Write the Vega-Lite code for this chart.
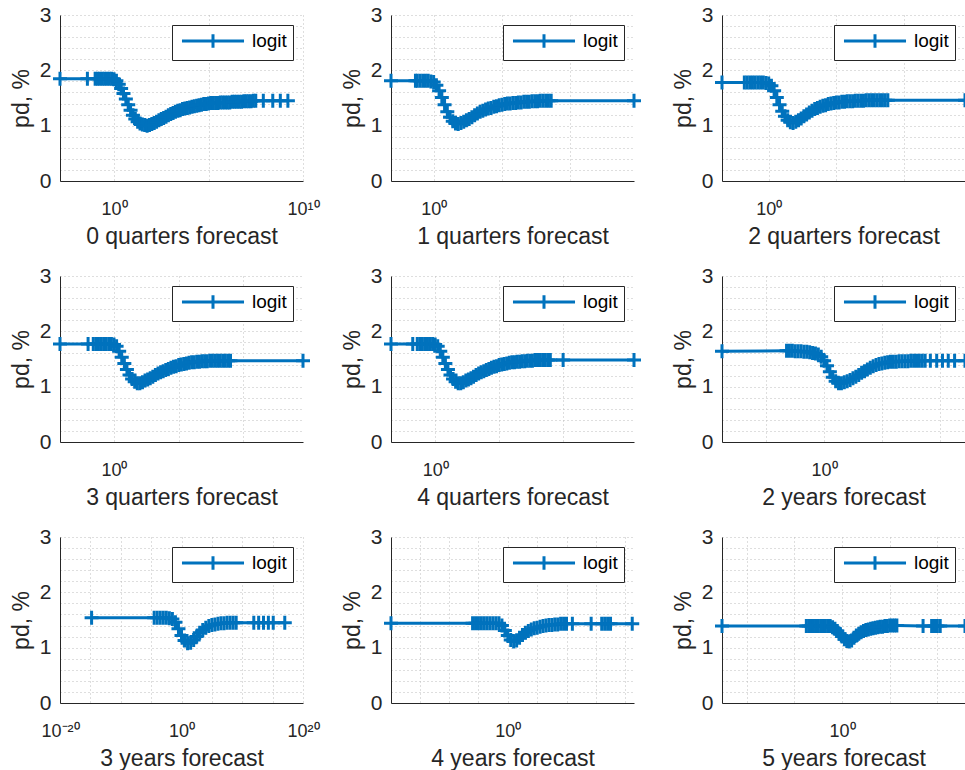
{
  "$schema": "https://vega.github.io/schema/vega-lite/v6.json",
  "padding": {"left": 10, "top": 4, "right": 0, "bottom": 0},
  "background": "white",
  "config": {
    "font": "Liberation Sans",
    "view": {"stroke": null},
    "axis": {"domainColor": "#262626", "domainWidth": 1, "labelColor": "#262626", "titleColor": "#262626", "titleFontWeight": "normal", "titleFontSize": 23, "labelFontSize": 21, "gridColor": "#bdbdbd", "gridDash": [1, 3], "gridWidth": 1, "ticks": false, "labelOverlap": false},
    "axisX": {"labelFontSize": 18, "labelPadding": 19, "titlePadding": 7, "labelFlush": false},
    "axisY": {"labelPadding": 9, "titlePadding": 6},
    "legend": {"orient": "top-right", "offset": 10, "strokeColor": "#262626", "fillColor": "white", "padding": 6, "cornerRadius": 0, "labelFontSize": 19, "labelColor": "#000000", "symbolType": "M-3.65,0H3.65M0,-0.8V0.8", "symbolSize": 289, "symbolStrokeWidth": 3, "symbolOffset": 25, "labelOffset": 29, "symbolFillColor": "transparent"}
  },
  "datasets": {
    "q0": [{"x":0.00138,"pd":1.85},{"x":0.0389,"pd":1.85},
      {"x":0.1,"pd":1.85},{"x":0.1334,"pd":1.85},{"x":0.1778,"pd":1.85},{"x":0.2371,"pd":1.85},{"x":0.3162,"pd":1.85},{"x":0.4217,"pd":1.85},{"x":0.5623,"pd":1.85},{"x":0.7499,"pd":1.85},
      {"x":1,"pd":1.84},{"x":1.334,"pd":1.81},{"x":1.778,"pd":1.75},{"x":2.371,"pd":1.67},{"x":3.162,"pd":1.58},{"x":4.217,"pd":1.48},{"x":5.623,"pd":1.38},{"x":7.499,"pd":1.28},
      {"x":10,"pd":1.19},{"x":13.34,"pd":1.12},{"x":17.78,"pd":1.07},{"x":23.71,"pd":1.04},{"x":31.62,"pd":1.02},{"x":42.17,"pd":1.01},{"x":56.23,"pd":1.0},{"x":74.99,"pd":1.01},
      {"x":100,"pd":1.03},{"x":133.4,"pd":1.05},{"x":177.8,"pd":1.07},{"x":237.1,"pd":1.1},{"x":316.2,"pd":1.12},{"x":421.7,"pd":1.14},{"x":562.3,"pd":1.16},{"x":749.9,"pd":1.19},
      {"x":1000,"pd":1.21},{"x":1334,"pd":1.23},{"x":1778,"pd":1.25},{"x":2371,"pd":1.27},{"x":3162,"pd":1.28},{"x":4217,"pd":1.3},{"x":5623,"pd":1.31},{"x":7499,"pd":1.32},
      {"x":1e4,"pd":1.33},{"x":1.334e4,"pd":1.34},{"x":1.778e4,"pd":1.35},{"x":2.371e4,"pd":1.36},{"x":3.162e4,"pd":1.37},{"x":4.217e4,"pd":1.38},{"x":5.623e4,"pd":1.39},{"x":7.499e4,"pd":1.39},
      {"x":1e5,"pd":1.4},{"x":1.334e5,"pd":1.41},{"x":1.778e5,"pd":1.41},{"x":2.371e5,"pd":1.41},{"x":3.162e5,"pd":1.41},{"x":4.217e5,"pd":1.42},{"x":5.623e5,"pd":1.42},{"x":7.499e5,"pd":1.42},
      {"x":1e6,"pd":1.42},{"x":1.334e6,"pd":1.42},{"x":1.778e6,"pd":1.43},{"x":2.371e6,"pd":1.43},{"x":3.162e6,"pd":1.43},{"x":4.217e6,"pd":1.43},{"x":5.623e6,"pd":1.43},{"x":7.499e6,"pd":1.44},
      {"x":1e7,"pd":1.44},{"x":1.334e7,"pd":1.44},{"x":1.778e7,"pd":1.44},{"x":2.371e7,"pd":1.45},{"x":3.162e7,"pd":1.45},
      {"x":7.943e7,"pd":1.45},{"x":2.512e8,"pd":1.45},{"x":6.31e8,"pd":1.45},{"x":1.585e9,"pd":1.45}],
    "q1": [{"x":7.586e-4,"pd":1.81},{"x":0.04677,"pd":1.81},
      {"x":0.0631,"pd":1.81},{"x":0.1,"pd":1.81},{"x":0.1585,"pd":1.81},{"x":0.2512,"pd":1.81},{"x":0.3981,"pd":1.81},{"x":0.631,"pd":1.8},
      {"x":1,"pd":1.79},{"x":1.585,"pd":1.73},{"x":2.512,"pd":1.63},{"x":3.981,"pd":1.51},{"x":6.31,"pd":1.38},
      {"x":10,"pd":1.25},{"x":15.85,"pd":1.15},{"x":25.12,"pd":1.08},{"x":39.81,"pd":1.04},{"x":63.1,"pd":1.03},
      {"x":100,"pd":1.05},{"x":158.5,"pd":1.07},{"x":251.2,"pd":1.1},{"x":398.1,"pd":1.12},{"x":631,"pd":1.15},
      {"x":1000,"pd":1.19},{"x":1585,"pd":1.22},{"x":2512,"pd":1.25},{"x":3981,"pd":1.27},{"x":6310,"pd":1.29},
      {"x":1e4,"pd":1.31},{"x":1.585e4,"pd":1.32},{"x":2.512e4,"pd":1.34},{"x":3.981e4,"pd":1.35},{"x":6.31e4,"pd":1.37},
      {"x":1e5,"pd":1.38},{"x":1.585e5,"pd":1.39},{"x":2.512e5,"pd":1.4},{"x":3.981e5,"pd":1.4},{"x":6.31e5,"pd":1.41},
      {"x":1e6,"pd":1.41},{"x":1.585e6,"pd":1.42},{"x":2.512e6,"pd":1.42},{"x":3.981e6,"pd":1.43},{"x":6.31e6,"pd":1.43},
      {"x":1e7,"pd":1.43},{"x":1.585e7,"pd":1.44},{"x":2.512e7,"pd":1.44},{"x":3.981e7,"pd":1.44},{"x":6.31e7,"pd":1.45},
      {"x":1e8,"pd":1.45},{"x":1.585e8,"pd":1.45},{"x":2.512e8,"pd":1.45},{"x":3.981e8,"pd":1.45},
      {"x":4.571e14,"pd":1.45}],
    "q2": [{"x":3.548e-4,"pd":1.78},
      {"x":0.01585,"pd":1.78},{"x":0.02512,"pd":1.78},{"x":0.03981,"pd":1.78},{"x":0.0631,"pd":1.78},
      {"x":0.1,"pd":1.78},{"x":0.1585,"pd":1.78},{"x":0.2512,"pd":1.78},{"x":0.3981,"pd":1.78},{"x":0.631,"pd":1.77},
      {"x":1,"pd":1.76},{"x":1.585,"pd":1.72},{"x":2.512,"pd":1.63},{"x":3.981,"pd":1.51},{"x":6.31,"pd":1.38},
      {"x":10,"pd":1.26},{"x":15.85,"pd":1.17},{"x":25.12,"pd":1.1},{"x":39.81,"pd":1.06},{"x":63.1,"pd":1.05},
      {"x":100,"pd":1.07},{"x":158.5,"pd":1.1},{"x":251.2,"pd":1.13},{"x":398.1,"pd":1.17},{"x":631,"pd":1.2},
      {"x":1000,"pd":1.24},{"x":1585,"pd":1.27},{"x":2512,"pd":1.3},{"x":3981,"pd":1.32},{"x":6310,"pd":1.34},
      {"x":1e4,"pd":1.36},{"x":1.585e4,"pd":1.37},{"x":2.512e4,"pd":1.39},{"x":3.981e4,"pd":1.4},{"x":6.31e4,"pd":1.41},
      {"x":1e5,"pd":1.42},{"x":1.585e5,"pd":1.42},{"x":2.512e5,"pd":1.43},{"x":3.981e5,"pd":1.43},{"x":6.31e5,"pd":1.44},
      {"x":1e6,"pd":1.44},{"x":1.585e6,"pd":1.44},{"x":2.512e6,"pd":1.45},{"x":3.981e6,"pd":1.45},{"x":6.31e6,"pd":1.45},
      {"x":1e7,"pd":1.45},{"x":1.585e7,"pd":1.46},{"x":2.512e7,"pd":1.46},{"x":3.981e7,"pd":1.46},{"x":6.31e7,"pd":1.46},
      {"x":1e8,"pd":1.46},{"x":1.585e8,"pd":1.46},{"x":2.512e8,"pd":1.46},{"x":3.981e8,"pd":1.46},{"x":6.31e8,"pd":1.46},
      {"x":3.162e14,"pd":1.46}],
    "q3": [{"x":6.761e-5,"pd":1.77},{"x":0.01,"pd":1.77},
      {"x":0.02512,"pd":1.77},{"x":0.03981,"pd":1.77},{"x":0.0631,"pd":1.77},
      {"x":0.1,"pd":1.77},{"x":0.1585,"pd":1.77},{"x":0.2512,"pd":1.77},{"x":0.3981,"pd":1.77},{"x":0.631,"pd":1.77},
      {"x":1,"pd":1.76},{"x":1.585,"pd":1.73},{"x":2.512,"pd":1.64},{"x":3.981,"pd":1.53},{"x":6.31,"pd":1.42},
      {"x":10,"pd":1.31},{"x":15.85,"pd":1.21},{"x":25.12,"pd":1.14},{"x":39.81,"pd":1.09},{"x":63.1,"pd":1.06},
      {"x":100,"pd":1.06},{"x":158.5,"pd":1.08},{"x":251.2,"pd":1.11},{"x":398.1,"pd":1.13},{"x":631,"pd":1.15},
      {"x":1000,"pd":1.18},{"x":1585,"pd":1.21},{"x":2512,"pd":1.24},{"x":3981,"pd":1.26},{"x":6310,"pd":1.28},
      {"x":1e4,"pd":1.3},{"x":1.585e4,"pd":1.32},{"x":2.512e4,"pd":1.34},{"x":3.981e4,"pd":1.36},{"x":6.31e4,"pd":1.37},
      {"x":1e5,"pd":1.39},{"x":1.585e5,"pd":1.4},{"x":2.512e5,"pd":1.41},{"x":3.981e5,"pd":1.42},{"x":6.31e5,"pd":1.43},
      {"x":1e6,"pd":1.44},{"x":1.585e6,"pd":1.44},{"x":2.512e6,"pd":1.45},{"x":3.981e6,"pd":1.45},{"x":6.31e6,"pd":1.46},
      {"x":1e7,"pd":1.46},{"x":1.585e7,"pd":1.46},{"x":2.512e7,"pd":1.47},{"x":3.981e7,"pd":1.47},{"x":6.31e7,"pd":1.47},
      {"x":1e8,"pd":1.47},{"x":1.585e8,"pd":1.47},{"x":2.512e8,"pd":1.47},{"x":3.981e8,"pd":1.47},{"x":6.31e8,"pd":1.47},
      {"x":1e9,"pd":1.47},
      {"x":3.981e14,"pd":1.47}],
    "q4": [{"x":3.548e-4,"pd":1.77},{"x":0.01778,"pd":1.77},
      {"x":0.03981,"pd":1.77},{"x":0.0631,"pd":1.77},
      {"x":0.1,"pd":1.77},{"x":0.1585,"pd":1.77},{"x":0.2512,"pd":1.77},{"x":0.3981,"pd":1.77},{"x":0.631,"pd":1.77},
      {"x":1,"pd":1.76},{"x":1.585,"pd":1.73},{"x":2.512,"pd":1.64},{"x":3.981,"pd":1.53},{"x":6.31,"pd":1.42},
      {"x":10,"pd":1.31},{"x":15.85,"pd":1.21},{"x":25.12,"pd":1.14},{"x":39.81,"pd":1.09},{"x":63.1,"pd":1.06},
      {"x":100,"pd":1.06},{"x":158.5,"pd":1.08},{"x":251.2,"pd":1.11},{"x":398.1,"pd":1.13},{"x":631,"pd":1.15},
      {"x":1000,"pd":1.18},{"x":1585,"pd":1.21},{"x":2512,"pd":1.24},{"x":3981,"pd":1.26},{"x":6310,"pd":1.28},
      {"x":1e4,"pd":1.3},{"x":1.585e4,"pd":1.32},{"x":2.512e4,"pd":1.34},{"x":3.981e4,"pd":1.36},{"x":6.31e4,"pd":1.37},
      {"x":1e5,"pd":1.39},{"x":1.585e5,"pd":1.4},{"x":2.512e5,"pd":1.41},{"x":3.981e5,"pd":1.42},{"x":6.31e5,"pd":1.43},
      {"x":1e6,"pd":1.44},{"x":1.585e6,"pd":1.44},{"x":2.512e6,"pd":1.45},{"x":3.981e6,"pd":1.45},{"x":6.31e6,"pd":1.46},
      {"x":1e7,"pd":1.46},{"x":1.585e7,"pd":1.47},{"x":2.512e7,"pd":1.47},{"x":3.981e7,"pd":1.47},{"x":6.31e7,"pd":1.48},
      {"x":1e8,"pd":1.48},{"x":1.585e8,"pd":1.48},{"x":2.512e8,"pd":1.48},{"x":3.981e8,"pd":1.48},{"x":6.31e8,"pd":1.48},
      {"x":1e9,"pd":1.48},
      {"x":1e10,"pd":1.48},{"x":3.467e15,"pd":1.48}],
    "y2": [{"x":1.445e-9,"pd":1.64},
      {"x":5.623e-4,"pd":1.65},{"x":0.001,"pd":1.65},{"x":0.001778,"pd":1.65},{"x":0.003162,"pd":1.64},{"x":0.005623,"pd":1.64},
      {"x":0.01,"pd":1.64},{"x":0.01778,"pd":1.63},{"x":0.03162,"pd":1.63},{"x":0.05623,"pd":1.62},
      {"x":0.1,"pd":1.61},{"x":0.1778,"pd":1.6},{"x":0.3162,"pd":1.58},{"x":0.5623,"pd":1.54},
      {"x":1,"pd":1.47},{"x":1.778,"pd":1.38},{"x":3.162,"pd":1.27},{"x":5.623,"pd":1.17},
      {"x":10,"pd":1.1},{"x":17.78,"pd":1.06},{"x":31.62,"pd":1.06},{"x":56.23,"pd":1.08},
      {"x":100,"pd":1.1},{"x":177.8,"pd":1.12},{"x":316.2,"pd":1.15},{"x":562.3,"pd":1.18},
      {"x":1000,"pd":1.21},{"x":1778,"pd":1.25},{"x":3162,"pd":1.28},{"x":5623,"pd":1.31},
      {"x":1e4,"pd":1.34},{"x":1.778e4,"pd":1.37},{"x":3.162e4,"pd":1.39},{"x":5.623e4,"pd":1.41},
      {"x":1e5,"pd":1.42},{"x":1.778e5,"pd":1.43},{"x":3.162e5,"pd":1.44},{"x":5.623e5,"pd":1.45},
      {"x":1e6,"pd":1.45},{"x":1.778e6,"pd":1.45},{"x":3.162e6,"pd":1.46},{"x":5.623e6,"pd":1.46},
      {"x":1e7,"pd":1.46},{"x":1.778e7,"pd":1.46},{"x":3.162e7,"pd":1.47},{"x":5.623e7,"pd":1.47},
      {"x":1e8,"pd":1.47},{"x":1.778e8,"pd":1.47},{"x":3.162e8,"pd":1.47},{"x":5.623e8,"pd":1.47},
      {"x":1.585e9,"pd":1.47},{"x":5.623e9,"pd":1.47},{"x":1.778e10,"pd":1.47},{"x":5.623e10,"pd":1.47},{"x":1.995e11,"pd":1.47},{"x":1.585e12,"pd":1.47}],
    "y3": [{"x":1.585e-15,"pd":1.54},
      {"x":3.162e-5,"pd":1.54},{"x":1e-4,"pd":1.54},{"x":3.162e-4,"pd":1.54},{"x":0.001,"pd":1.54},{"x":0.003162,"pd":1.54},
      {"x":0.01,"pd":1.53},{"x":0.03162,"pd":1.52},{"x":0.1,"pd":1.46},{"x":0.3162,"pd":1.34},
      {"x":1,"pd":1.22},{"x":3.162,"pd":1.13},{"x":10,"pd":1.08},{"x":31.62,"pd":1.09},
      {"x":100,"pd":1.14},{"x":316.2,"pd":1.2},{"x":1000,"pd":1.27},{"x":3162,"pd":1.32},
      {"x":1e4,"pd":1.36},{"x":3.162e4,"pd":1.39},{"x":1e5,"pd":1.41},{"x":3.162e5,"pd":1.42},
      {"x":1e6,"pd":1.43},{"x":3.162e6,"pd":1.44},{"x":1e7,"pd":1.44},{"x":3.162e7,"pd":1.45},
      {"x":1e8,"pd":1.45},{"x":3.162e8,"pd":1.45},{"x":1e9,"pd":1.45},
      {"x":7.943e11,"pd":1.45},{"x":5.012e12,"pd":1.45},{"x":3.162e13,"pd":1.45},{"x":1.995e14,"pd":1.45},{"x":1.259e15,"pd":1.45},{"x":1e17,"pd":1.45}],
    "y4": [{"x":1.259e-20,"pd":1.44},
      {"x":1e-6,"pd":1.44},{"x":3.162e-6,"pd":1.44},{"x":1e-5,"pd":1.44},{"x":3.162e-5,"pd":1.44},{"x":1e-4,"pd":1.44},{"x":3.162e-4,"pd":1.44},{"x":0.001,"pd":1.44},{"x":0.003162,"pd":1.44},{"x":0.01,"pd":1.44},{"x":0.03162,"pd":1.44},
      {"x":0.1,"pd":1.4},{"x":0.3162,"pd":1.31},{"x":1,"pd":1.22},{"x":3.162,"pd":1.14},
      {"x":10,"pd":1.11},{"x":31.62,"pd":1.13},{"x":100,"pd":1.18},{"x":316.2,"pd":1.23},
      {"x":1000,"pd":1.27},{"x":3162,"pd":1.3},{"x":1e4,"pd":1.33},{"x":3.162e4,"pd":1.35},
      {"x":1e5,"pd":1.36},{"x":3.162e5,"pd":1.38},{"x":1e6,"pd":1.39},{"x":3.162e6,"pd":1.4},
      {"x":1e7,"pd":1.41},{"x":3.162e7,"pd":1.41},{"x":1e8,"pd":1.42},{"x":3.162e8,"pd":1.42},
      {"x":1e9,"pd":1.43},{"x":3.162e9,"pd":1.43},{"x":1e10,"pd":1.43},
      {"x":1e11,"pd":1.43},{"x":1.585e14,"pd":1.43},{"x":1e16,"pd":1.43},{"x":3.162e16,"pd":1.43},{"x":1e17,"pd":1.43},{"x":3.162e17,"pd":1.43},{"x":1.585e21,"pd":1.43}],
    "y5": [{"x":2.512e-13,"pd":1.39},
      {"x":1.778e-4,"pd":1.39},{"x":3.162e-4,"pd":1.39},{"x":5.623e-4,"pd":1.39},{"x":0.001,"pd":1.39},{"x":0.001778,"pd":1.39},{"x":0.003162,"pd":1.39},{"x":0.005623,"pd":1.39},{"x":0.01,"pd":1.39},{"x":0.01778,"pd":1.39},{"x":0.03162,"pd":1.39},{"x":0.05623,"pd":1.39},
      {"x":0.1,"pd":1.37},{"x":0.1778,"pd":1.34},{"x":0.3162,"pd":1.3},{"x":0.5623,"pd":1.25},
      {"x":1,"pd":1.2},{"x":1.778,"pd":1.15},{"x":3.162,"pd":1.12},{"x":5.623,"pd":1.11},
      {"x":10,"pd":1.13},{"x":17.78,"pd":1.18},{"x":31.62,"pd":1.22},{"x":56.23,"pd":1.25},
      {"x":100,"pd":1.28},{"x":177.8,"pd":1.3},{"x":316.2,"pd":1.32},{"x":562.3,"pd":1.33},
      {"x":1000,"pd":1.34},{"x":1778,"pd":1.35},{"x":3162,"pd":1.36},{"x":5623,"pd":1.37},
      {"x":1e4,"pd":1.38},{"x":1.778e4,"pd":1.38},{"x":3.162e4,"pd":1.39},{"x":5.623e4,"pd":1.39},
      {"x":1e5,"pd":1.4},{"x":1.778e5,"pd":1.4},{"x":3.162e5,"pd":1.4},{"x":5.623e5,"pd":1.4},
      {"x":3.162e8,"pd":1.39},{"x":2.512e9,"pd":1.39},{"x":5.012e9,"pd":1.39},{"x":1e10,"pd":1.39},{"x":1.995e10,"pd":1.39},{"x":7.943e12,"pd":1.39}]
  },
  "columns": 3,
  "spacing": {"row": 95, "column": 88},
  "bounds": "flush",
  "resolve": {"legend": {"color": "independent"}},
  "concat": [
    {"width": 243, "height": 166, "data": {"name": "q0"},
     "encoding": {
       "x": {"field": "x", "type": "quantitative", "scale": {"type": "log", "domain": [0.00138, 1e10]}, "axis": {"title": "0 quarters forecast", "values": [1, 1e5, 1e10], "labelExpr": "datum.value == 1 ? '10⁰' : datum.value == 1e10 ? '10¹⁰' : ''"}},
       "y": {"field": "pd", "type": "quantitative", "scale": {"domain": [0, 3]}, "axis": {"title": "pd, %", "values": [0,0.2,0.4,0.6,0.8,1,1.2,1.4,1.6,1.8,2,2.2,2.4,2.6,2.8,3], "labelExpr": "datum.value % 1 == 0 ? format(datum.value, 'd') : ''"}}},
     "layer": [
       {"mark": {"type": "line", "strokeWidth": 3}, "encoding": {"color": {"datum": "logit", "scale": {"range": ["#0072BD"]}, "legend": {"title": null}}}},
       {"mark": {"type": "point", "shape": "M-1,0H1M0,-1V1", "filled": false, "size": 196, "strokeWidth": 3, "color": "#0072BD", "opacity": 1}}
     ]},
    {"width": 243, "height": 166, "data": {"name": "q1"},
     "encoding": {
       "x": {"field": "x", "type": "quantitative", "scale": {"type": "log", "domain": [7.586e-4, 4.571e14]}, "axis": {"title": "1 quarters forecast", "values": [1, 1e5, 1e10], "labelExpr": "datum.value == 1 ? '10⁰' : ''"}},
       "y": {"field": "pd", "type": "quantitative", "scale": {"domain": [0, 3]}, "axis": {"title": "pd, %", "values": [0,0.2,0.4,0.6,0.8,1,1.2,1.4,1.6,1.8,2,2.2,2.4,2.6,2.8,3], "labelExpr": "datum.value % 1 == 0 ? format(datum.value, 'd') : ''"}}},
     "layer": [
       {"mark": {"type": "line", "strokeWidth": 3}, "encoding": {"color": {"datum": "logit", "scale": {"range": ["#0072BD"]}, "legend": {"title": null}}}},
       {"mark": {"type": "point", "shape": "M-1,0H1M0,-1V1", "filled": false, "size": 196, "strokeWidth": 3, "color": "#0072BD", "opacity": 1}}
     ]},
    {"width": 243, "height": 166, "data": {"name": "q2"},
     "encoding": {
       "x": {"field": "x", "type": "quantitative", "scale": {"type": "log", "domain": [3.548e-4, 3.162e14]}, "axis": {"title": "2 quarters forecast", "values": [1, 1e5, 1e10], "labelExpr": "datum.value == 1 ? '10⁰' : ''"}},
       "y": {"field": "pd", "type": "quantitative", "scale": {"domain": [0, 3]}, "axis": {"title": "pd, %", "values": [0,0.2,0.4,0.6,0.8,1,1.2,1.4,1.6,1.8,2,2.2,2.4,2.6,2.8,3], "labelExpr": "datum.value % 1 == 0 ? format(datum.value, 'd') : ''"}}},
     "layer": [
       {"mark": {"type": "line", "strokeWidth": 3}, "encoding": {"color": {"datum": "logit", "scale": {"range": ["#0072BD"]}, "legend": {"title": null}}}},
       {"mark": {"type": "point", "shape": "M-1,0H1M0,-1V1", "filled": false, "size": 196, "strokeWidth": 3, "color": "#0072BD", "opacity": 1}}
     ]},
    {"width": 243, "height": 166, "data": {"name": "q3"},
     "encoding": {
       "x": {"field": "x", "type": "quantitative", "scale": {"type": "log", "domain": [6.761e-5, 3.981e14]}, "axis": {"title": "3 quarters forecast", "values": [1, 1e5, 1e10], "labelExpr": "datum.value == 1 ? '10⁰' : ''"}},
       "y": {"field": "pd", "type": "quantitative", "scale": {"domain": [0, 3]}, "axis": {"title": "pd, %", "values": [0,0.2,0.4,0.6,0.8,1,1.2,1.4,1.6,1.8,2,2.2,2.4,2.6,2.8,3], "labelExpr": "datum.value % 1 == 0 ? format(datum.value, 'd') : ''"}}},
     "layer": [
       {"mark": {"type": "line", "strokeWidth": 3}, "encoding": {"color": {"datum": "logit", "scale": {"range": ["#0072BD"]}, "legend": {"title": null}}}},
       {"mark": {"type": "point", "shape": "M-1,0H1M0,-1V1", "filled": false, "size": 196, "strokeWidth": 3, "color": "#0072BD", "opacity": 1}}
     ]},
    {"width": 243, "height": 166, "data": {"name": "q4"},
     "encoding": {
       "x": {"field": "x", "type": "quantitative", "scale": {"type": "log", "domain": [3.548e-4, 3.467e15]}, "axis": {"title": "4 quarters forecast", "values": [1, 1e5, 1e10], "labelExpr": "datum.value == 1 ? '10⁰' : ''"}},
       "y": {"field": "pd", "type": "quantitative", "scale": {"domain": [0, 3]}, "axis": {"title": "pd, %", "values": [0,0.2,0.4,0.6,0.8,1,1.2,1.4,1.6,1.8,2,2.2,2.4,2.6,2.8,3], "labelExpr": "datum.value % 1 == 0 ? format(datum.value, 'd') : ''"}}},
     "layer": [
       {"mark": {"type": "line", "strokeWidth": 3}, "encoding": {"color": {"datum": "logit", "scale": {"range": ["#0072BD"]}, "legend": {"title": null}}}},
       {"mark": {"type": "point", "shape": "M-1,0H1M0,-1V1", "filled": false, "size": 196, "strokeWidth": 3, "color": "#0072BD", "opacity": 1}}
     ]},
    {"width": 243, "height": 166, "data": {"name": "y2"},
     "encoding": {
       "x": {"field": "x", "type": "quantitative", "scale": {"type": "log", "domain": [1.445e-9, 1.585e12]}, "axis": {"title": "2 years forecast", "values": [1e-5, 1, 1e5, 1e10], "labelExpr": "datum.value == 1 ? '10⁰' : ''"}},
       "y": {"field": "pd", "type": "quantitative", "scale": {"domain": [0, 3]}, "axis": {"title": "pd, %", "values": [0,0.2,0.4,0.6,0.8,1,1.2,1.4,1.6,1.8,2,2.2,2.4,2.6,2.8,3], "labelExpr": "datum.value % 1 == 0 ? format(datum.value, 'd') : ''"}}},
     "layer": [
       {"mark": {"type": "line", "strokeWidth": 3}, "encoding": {"color": {"datum": "logit", "scale": {"range": ["#0072BD"]}, "legend": {"title": null}}}},
       {"mark": {"type": "point", "shape": "M-1,0H1M0,-1V1", "filled": false, "size": 196, "strokeWidth": 3, "color": "#0072BD", "opacity": 1}}
     ]},
    {"width": 243, "height": 166, "data": {"name": "y3"},
     "encoding": {
       "x": {"field": "x", "type": "quantitative", "scale": {"type": "log", "domain": [1e-20, 1e20]}, "axis": {"title": "3 years forecast", "values": [1e-20, 1e-15, 1e-10, 1e-5, 1, 1e5, 1e10, 1e15, 1e20], "labelExpr": "datum.value == 1 ? '10⁰' : datum.value < 1e-19 ? '10⁻²⁰' : datum.value > 1e19 ? '10²⁰' : ''"}},
       "y": {"field": "pd", "type": "quantitative", "scale": {"domain": [0, 3]}, "axis": {"title": "pd, %", "values": [0,0.2,0.4,0.6,0.8,1,1.2,1.4,1.6,1.8,2,2.2,2.4,2.6,2.8,3], "labelExpr": "datum.value % 1 == 0 ? format(datum.value, 'd') : ''"}}},
     "layer": [
       {"mark": {"type": "line", "strokeWidth": 3}, "encoding": {"color": {"datum": "logit", "scale": {"range": ["#0072BD"]}, "legend": {"title": null}}}},
       {"mark": {"type": "point", "shape": "M-1,0H1M0,-1V1", "filled": false, "size": 196, "strokeWidth": 3, "color": "#0072BD", "opacity": 1}}
     ]},
    {"width": 243, "height": 166, "data": {"name": "y4"},
     "encoding": {
       "x": {"field": "x", "type": "quantitative", "scale": {"type": "log", "domain": [1.259e-20, 3.162e21]}, "axis": {"title": "4 years forecast", "values": [1e-15, 1e-10, 1e-5, 1, 1e5, 1e10, 1e15, 1e20], "labelExpr": "datum.value == 1 ? '10⁰' : ''"}},
       "y": {"field": "pd", "type": "quantitative", "scale": {"domain": [0, 3]}, "axis": {"title": "pd, %", "values": [0,0.2,0.4,0.6,0.8,1,1.2,1.4,1.6,1.8,2,2.2,2.4,2.6,2.8,3], "labelExpr": "datum.value % 1 == 0 ? format(datum.value, 'd') : ''"}}},
     "layer": [
       {"mark": {"type": "line", "strokeWidth": 3}, "encoding": {"color": {"datum": "logit", "scale": {"range": ["#0072BD"]}, "legend": {"title": null}}}},
       {"mark": {"type": "point", "shape": "M-1,0H1M0,-1V1", "filled": false, "size": 196, "strokeWidth": 3, "color": "#0072BD", "opacity": 1}}
     ]},
    {"width": 243, "height": 166, "data": {"name": "y5"},
     "encoding": {
       "x": {"field": "x", "type": "quantitative", "scale": {"type": "log", "domain": [2.512e-13, 7.943e12]}, "axis": {"title": "5 years forecast", "values": [1e-10, 1e-5, 1, 1e5, 1e10], "labelExpr": "datum.value == 1 ? '10⁰' : ''"}},
       "y": {"field": "pd", "type": "quantitative", "scale": {"domain": [0, 3]}, "axis": {"title": "pd, %", "values": [0,0.2,0.4,0.6,0.8,1,1.2,1.4,1.6,1.8,2,2.2,2.4,2.6,2.8,3], "labelExpr": "datum.value % 1 == 0 ? format(datum.value, 'd') : ''"}}},
     "layer": [
       {"mark": {"type": "line", "strokeWidth": 3}, "encoding": {"color": {"datum": "logit", "scale": {"range": ["#0072BD"]}, "legend": {"title": null}}}},
       {"mark": {"type": "point", "shape": "M-1,0H1M0,-1V1", "filled": false, "size": 196, "strokeWidth": 3, "color": "#0072BD", "opacity": 1}}
     ]}
  ]
}
